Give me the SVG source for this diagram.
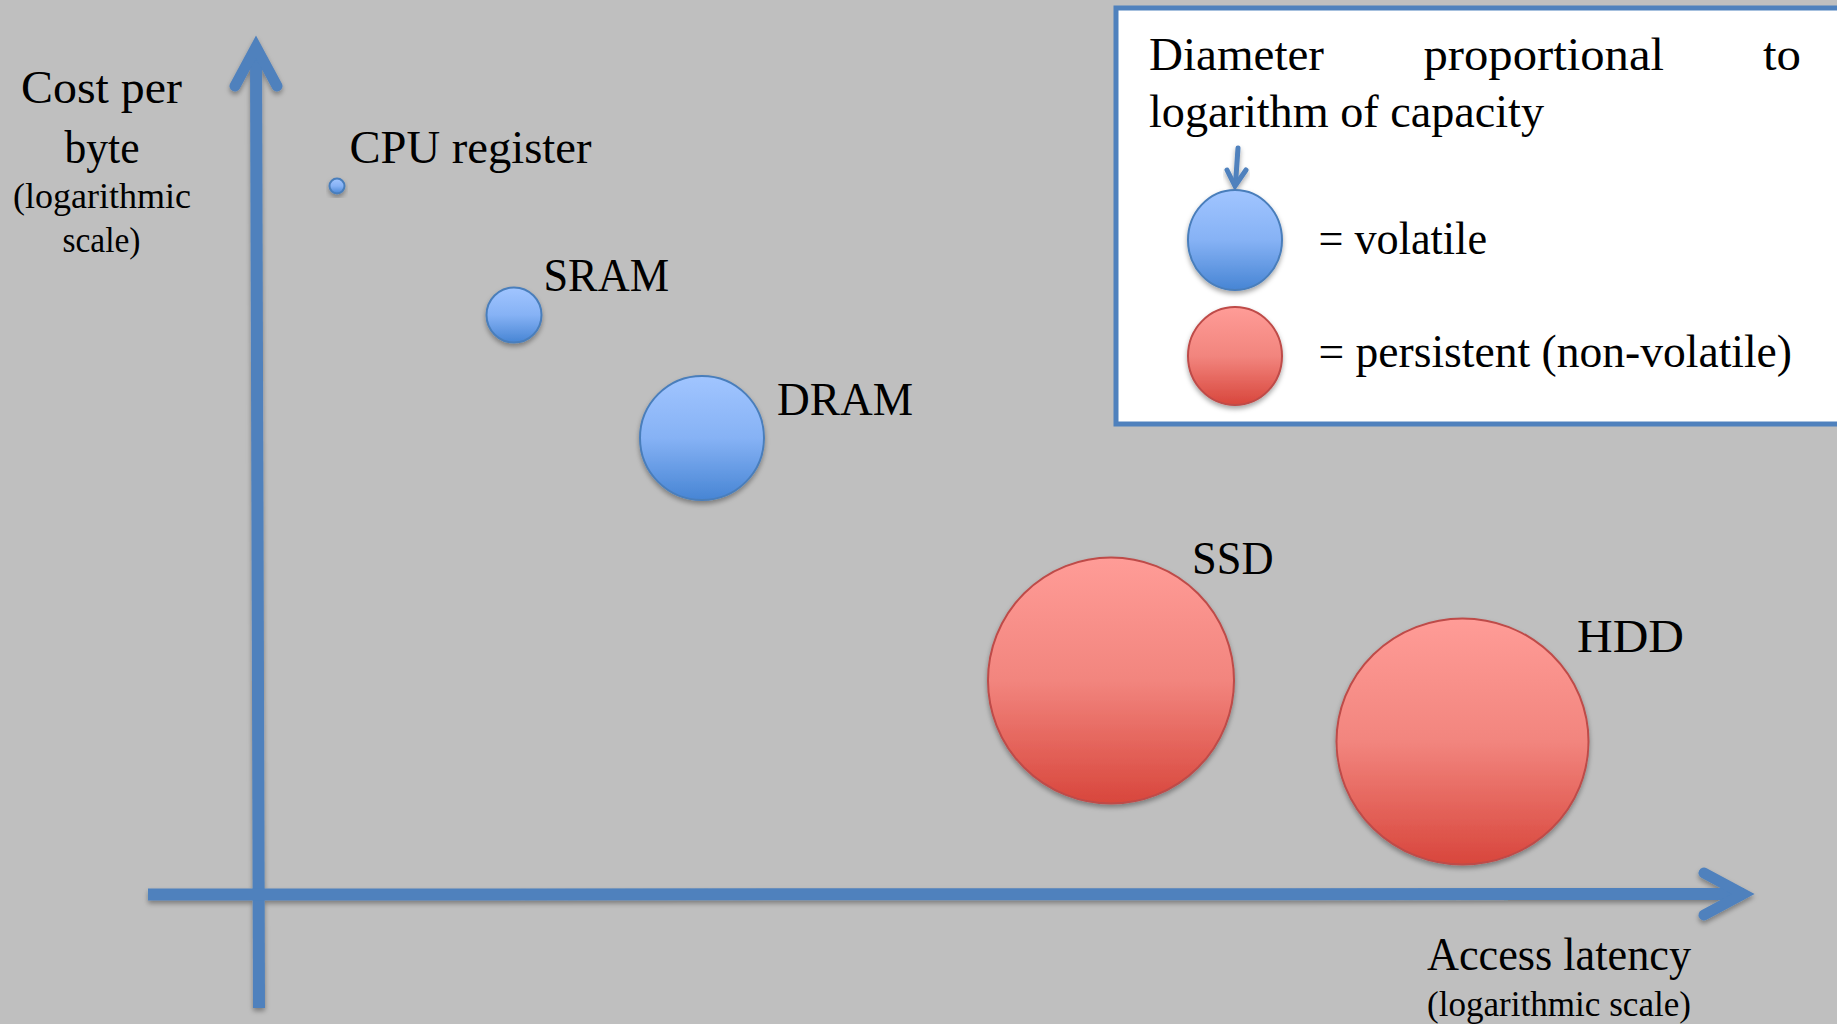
<svg xmlns="http://www.w3.org/2000/svg" width="1837" height="1024" viewBox="0 0 1837 1024">
<defs>
<linearGradient id="gBlue" x1="0" y1="0" x2="0" y2="1">
<stop offset="0" stop-color="#a1c5ff"/>
<stop offset="0.5" stop-color="#86b2f5"/>
<stop offset="1" stop-color="#4785d4"/>
</linearGradient>
<linearGradient id="gRed" x1="0" y1="0" x2="0" y2="1">
<stop offset="0" stop-color="#ff9c97"/>
<stop offset="0.5" stop-color="#f2857e"/>
<stop offset="1" stop-color="#d8463c"/>
</linearGradient>
<filter id="sh" x="-20%" y="-20%" width="140%" height="150%">
<feDropShadow dx="0" dy="3" stdDeviation="2.5" flood-color="#000" flood-opacity="0.35"/>
</filter>
</defs>
<style>
.t{font-family:"Liberation Serif","Times New Roman",serif;fill:#000;}
.big{font-size:46px;}
.sm{font-size:35px;}
.axis{fill:none;stroke:#4f81bd;stroke-width:12;}
.head{fill:none;stroke:#4f81bd;stroke-width:11;stroke-linecap:round;stroke-linejoin:miter;stroke-miterlimit:10;}
.blue{fill:url(#gBlue);stroke:#4a7ebb;stroke-width:2;}
.red{fill:url(#gRed);stroke:#be4b48;stroke-width:2;}
</style>
<rect x="0" y="0" width="1837" height="1024" fill="#bfbfbf"/>

<g id="connectors" filter="url(#sh)">
<line class="axis" x1="256" y1="52" x2="259" y2="1008"/>
<path class="head" d="M235,86 L256,47 L277,86"/>
<line class="axis" x1="148" y1="894.5" x2="1744" y2="894"/>
<path class="head" d="M1704,873 L1743,894 L1704,915"/>
</g>

<g id="y-axis-label">
<text class="t big" x="101.5" y="103" text-anchor="middle" textLength="161" lengthAdjust="spacingAndGlyphs">Cost per</text>
<text class="t big" x="102" y="163" text-anchor="middle" textLength="75" lengthAdjust="spacingAndGlyphs">byte</text>
<text class="t sm" x="102" y="208" text-anchor="middle" textLength="178" lengthAdjust="spacingAndGlyphs">(logarithmic</text>
<text class="t sm" x="101.5" y="252" text-anchor="middle" textLength="78" lengthAdjust="spacingAndGlyphs">scale)</text>
</g>

<g id="x-axis-label">
<text class="t big" x="1427" y="970" textLength="264" lengthAdjust="spacingAndGlyphs">Access latency</text>
<text class="t sm" x="1427" y="1016" textLength="264" lengthAdjust="spacingAndGlyphs">(logarithmic scale)</text>
</g>

<g id="cpu-register">
<circle class="blue" cx="337" cy="186" r="7.5" filter="url(#sh)"/>
<text class="t big" x="349.5" y="163" textLength="242" lengthAdjust="spacingAndGlyphs">CPU register</text>
</g>

<g id="sram">
<circle class="blue" cx="514" cy="315" r="27.5" filter="url(#sh)"/>
<text class="t big" x="543.5" y="291" textLength="125.5" lengthAdjust="spacingAndGlyphs">SRAM</text>
</g>

<g id="dram">
<circle class="blue" cx="702" cy="438" r="62" filter="url(#sh)"/>
<text class="t big" x="777" y="415" textLength="136" lengthAdjust="spacingAndGlyphs">DRAM</text>
</g>

<g id="ssd">
<circle class="red" cx="1111" cy="680.5" r="123" filter="url(#sh)"/>
<text class="t big" x="1192" y="574" textLength="81.5" lengthAdjust="spacingAndGlyphs">SSD</text>
</g>

<g id="hdd">
<ellipse class="red" cx="1462.5" cy="741.5" rx="126" ry="123" filter="url(#sh)"/>
<text class="t big" x="1577" y="652" textLength="107" lengthAdjust="spacingAndGlyphs">HDD</text>
</g>

<g id="legend">
<rect x="1116" y="8" width="740" height="416" fill="#ffffff" stroke="#4f81bd" stroke-width="5"/>
<text class="t big" y="70"><tspan x="1149" textLength="175" lengthAdjust="spacingAndGlyphs">Diameter</tspan><tspan x="1423.5" textLength="240.5" lengthAdjust="spacingAndGlyphs">proportional</tspan><tspan x="1763" textLength="38" lengthAdjust="spacingAndGlyphs">to</tspan></text>
<text class="t big" x="1149" y="127" textLength="395" lengthAdjust="spacingAndGlyphs">logarithm of capacity</text>
<g filter="url(#sh)">
<line x1="1238" y1="148" x2="1235.5" y2="184" stroke="#4f81bd" stroke-width="5" stroke-linecap="round"/>
<path d="M1227,170 L1235,186 L1246,170" fill="none" stroke="#4f81bd" stroke-width="5" stroke-linecap="round" stroke-linejoin="miter"/>
</g>
<ellipse class="blue" cx="1235" cy="240" rx="47" ry="50" filter="url(#sh)"/>
<text class="t big" x="1318.5" y="254" textLength="168.5" lengthAdjust="spacingAndGlyphs">= volatile</text>
<ellipse class="red" cx="1235" cy="356" rx="47" ry="49" filter="url(#sh)"/>
<text class="t big" x="1318.5" y="367" textLength="473.5" lengthAdjust="spacingAndGlyphs">= persistent (non-volatile)</text>
</g>
</svg>
